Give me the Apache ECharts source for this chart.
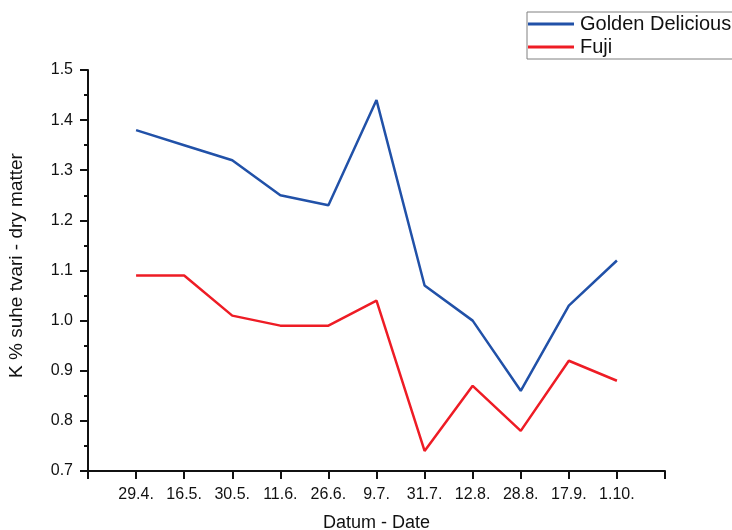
<!DOCTYPE html>
<html>
<head>
<meta charset="utf-8">
<script src="https://cdn.jsdelivr.net/npm/echarts@6/dist/echarts.min.js"></script>
<style>
html,body{margin:0;padding:0;background:#fff;}
#chart{width:732px;height:530px;}
</style>
</head>
<body>
<div id="chart"></div>
<script>
// Sampling dates (x axis categories)
var dates = ['29.4.', '16.5.', '30.5.', '11.6.', '26.6.', '9.7.', '31.7.', '12.8.', '28.8.', '17.9.', '1.10.'];
// K content in dry matter (%)
var goldenDelicious = [1.38, 1.35, 1.32, 1.25, 1.23, 1.44, 1.07, 1.00, 0.86, 1.03, 1.12];
var fuji = [1.09, 1.09, 1.01, 0.99, 0.99, 1.04, 0.74, 0.87, 0.78, 0.92, 0.88];
var yTicks = [0.7, 0.8, 0.9, 1.0, 1.1, 1.2, 1.3, 1.4, 1.5];

var FONT = '"Liberation Sans", Arial, sans-serif';

function pairs(vals) {
  return vals.map(function (v, i) { return [i + 1, v]; });
}

var chart = echarts.init(document.getElementById('chart'), null, { renderer: 'canvas' });
chart.setOption({
  backgroundColor: '#ffffff',
  animation: false,
  grid: { left: 88, right: 67, top: 70, bottom: 59, containLabel: false, outerBoundsMode: 'none' },
  legend: {
    orient: 'vertical',
    left: 527,
    top: 12,
    itemWidth: 46,
    itemHeight: 3,
    itemGap: 3,
    padding: [2, 20, 2, 1],
    borderColor: '#808080',
    borderWidth: 1,
    icon: 'rect',
    textStyle: { fontFamily: FONT, fontSize: 20, lineHeight: 20, color: '#111', padding: [0, 0, 0, 1] },
    data: ['Golden Delicious', 'Fuji']
  },
  xAxis: {
    type: 'value',
    min: 0,
    max: dates.length + 1,
    interval: 1,
    name: 'Datum - Date',
    nameLocation: 'middle',
    nameGap: 43,
    nameTextStyle: { fontFamily: FONT, fontSize: 18, color: '#111' },
    axisLine: { lineStyle: { color: '#111', width: 2 } },
    axisTick: { show: true, inside: false, length: 8, lineStyle: { color: '#111', width: 2 } },
    axisLabel: {
      margin: 16,
      fontFamily: FONT, fontSize: 16, color: '#111',
      formatter: function (v) {
        var i = Math.round(v) - 1;
        return (i >= 0 && i < dates.length) ? dates[i] : '';
      }
    },
    splitLine: { show: false }
  },
  yAxis: {
    type: 'value',
    min: yTicks[0],
    max: yTicks[yTicks.length - 1],
    interval: 0.1,
    name: 'K % suhe tvari - dry matter',
    nameLocation: 'middle',
    nameGap: 62,
    nameTextStyle: { fontFamily: FONT, fontSize: 19, color: '#111', padding: [0, 0, 0, 10] },
    axisLine: { show: true, lineStyle: { color: '#111', width: 2 } },
    axisTick: { show: true, inside: false, length: 8, lineStyle: { color: '#111', width: 2 } },
    minorTick: { show: true, splitNumber: 2, length: 4, lineStyle: { color: '#111', width: 2 } },
    axisLabel: {
      margin: 15,
      fontFamily: FONT, fontSize: 16, color: '#111',
      formatter: function (v) { return v.toFixed(1); }
    },
    splitLine: { show: false }
  },
  series: [
    {
      name: 'Golden Delicious',
      type: 'line',
      data: pairs(goldenDelicious),
      symbol: 'none',
      lineStyle: { color: '#2151a8', width: 2.5 },
      itemStyle: { color: '#2151a8' }
    },
    {
      name: 'Fuji',
      type: 'line',
      data: pairs(fuji),
      symbol: 'none',
      lineStyle: { color: '#ee1c25', width: 2.5 },
      itemStyle: { color: '#ee1c25' }
    }
  ]
});
</script>
</body>
</html>
